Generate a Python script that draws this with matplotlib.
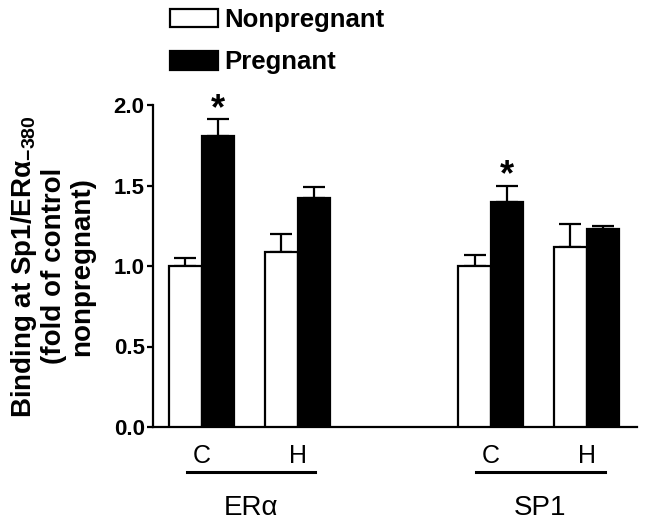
import matplotlib

matplotlib.use("Agg")
import matplotlib.pyplot as plt
from matplotlib.patches import Patch

plt.rcParams["font.family"] = ["Liberation Sans", "DejaVu Sans"]
plt.rcParams["mathtext.fontset"] = "custom"
plt.rcParams["mathtext.rm"] = "Liberation Sans:bold"
plt.rcParams["mathtext.default"] = "rm"

# data (fold of control nonpregnant)
groups = ["ER\u03b1", "SP1"]
treatments = ["C", "H"]
nonpregnant = [1.00, 1.09, 1.00, 1.12]
nonpregnant_err = [0.05, 0.11, 0.07, 0.14]
pregnant = [1.81, 1.42, 1.40, 1.23]
pregnant_err = [0.10, 0.07, 0.10, 0.02]
significant = [True, False, True, False]

# bar-pair centres in bar-width units: treatment spacing and group spacing
centers = [1.5, 4.45, 10.4, 13.35]
width = 1.0

fig = plt.figure(figsize=(6.48, 5.26), dpi=100)
ax = fig.add_axes([153 / 648, 99 / 526, 484 / 648, 322 / 526])

xn = [c - width / 2 for c in centers]
xp = [c + width / 2 for c in centers]
lw = 1.6
ax.bar(xn, nonpregnant, width, color="white", edgecolor="black", linewidth=lw, zorder=3)
ax.bar(xp, pregnant, width, color="black", edgecolor="black", linewidth=lw, zorder=3)
ax.errorbar(xn, nonpregnant, yerr=[[0] * 4, nonpregnant_err], fmt="none",
            ecolor="black", elinewidth=lw, capsize=8, capthick=lw, zorder=2)
ax.errorbar(xp, pregnant, yerr=[[0] * 4, pregnant_err], fmt="none",
            ecolor="black", elinewidth=lw, capsize=8, capthick=lw, zorder=2)

for x, v, e, s in zip(xp, pregnant, pregnant_err, significant):
    if s:
        ax.text(x, v + e, "*", ha="center", va="baseline", fontsize=26, fontweight="bold")

ax.set_xlim(0, 14.9)
ax.set_ylim(0, 2.0)
ax.set_yticks([0.0, 0.5, 1.0, 1.5, 2.0])
ax.set_yticklabels(["0.0", "0.5", "1.0", "1.5", "2.0"], fontsize=16, fontweight="bold")
ax.tick_params(axis="y", length=4, width=lw, pad=2)
ax.set_xticks(centers)
ax.set_xticklabels(treatments * len(groups), fontsize=18)
ax.tick_params(axis="x", length=0, pad=12)
for side in ("top", "right"):
    ax.spines[side].set_visible(False)
for side in ("left", "bottom"):
    ax.spines[side].set_linewidth(lw)

tr = ax.get_xaxis_transform()
for i, g in enumerate(groups):
    x0 = centers[2 * i] - 0.45
    x1 = centers[2 * i + 1] + 0.55
    ax.plot([x0, x1], [-0.140, -0.140], color="black", lw=2.2, transform=tr, clip_on=False)
    ax.text((x0 + x1) / 2, -0.252, g, transform=tr, ha="center", va="center", fontsize=20)

fig.text(52 / 648, 0.494,
         "Binding at Sp1/ER\u03b1$_{-380}$\n(fold of control\nnonpregnant)",
         rotation=90, ha="center", va="center", multialignment="center",
         fontsize=20, fontweight="bold", linespacing=1.1)

handles = [Patch(facecolor="white", edgecolor="black", linewidth=lw),
           Patch(facecolor="black", edgecolor="black", linewidth=lw)]
fig.legend(handles, ["Nonpregnant", "Pregnant"], loc="upper left",
           bbox_to_anchor=(170 / 648, 1 - 8 / 526), frameon=False,
           prop={"size": 18.5, "weight": "bold"}, handlelength=1.85, handleheight=0.75,
           handletextpad=0.25, labelspacing=0.72, borderpad=0, borderaxespad=0)

fig.savefig("out.png", dpi=100)
